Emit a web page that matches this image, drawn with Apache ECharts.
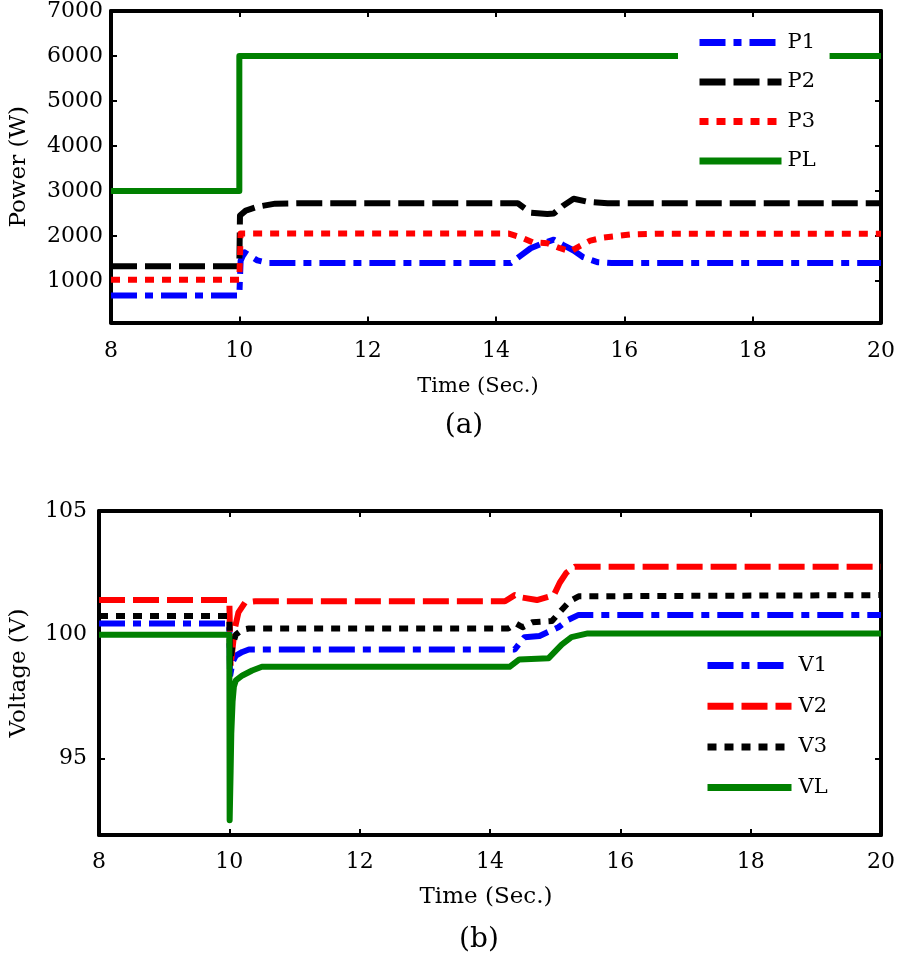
<!DOCTYPE html>
<html><head><meta charset="utf-8">
<script src="https://cdn.jsdelivr.net/npm/echarts@6/dist/echarts.min.js"></script>
<style>html,body{margin:0;padding:0;background:#fff}#c{width:898px;height:960px}</style>
</head><body><div id="c"></div>
<script>
// ---- data ----
const timeTicks = [8, 10, 12, 14, 16, 18, 20];
const powerTicks = [1000, 2000, 3000, 4000, 5000, 6000, 7000];
const voltTicks = [95, 100, 105];

const tP1 = [8, 10, 10.02, 10.08, 10.28, 10.46, 14.23, 14.39, 14.54, 14.73, 14.9, 15.05, 15.21, 15.36, 15.58, 15.8, 20];
const vP1 = [680, 680, 1450, 1640, 1460, 1400, 1400, 1570, 1730, 1840, 1920, 1800, 1680, 1530, 1420, 1400, 1400];

const tP2 = [8, 10, 10.01, 10.1, 10.28, 10.56, 11, 14.34, 14.54, 14.8, 14.9, 15.04, 15.21, 15.42, 15.74, 20];
const vP2 = [1330, 1330, 2455, 2565, 2650, 2720, 2730, 2730, 2520, 2490, 2500, 2670, 2830, 2765, 2730, 2730];

const tP3 = [8, 10, 10.02, 14.2, 14.39, 14.57, 14.8, 15.0, 15.16, 15.27, 15.47, 15.67, 16.09, 16.5, 20];
const vP3 = [1030, 1030, 2055, 2055, 1970, 1860, 1840, 1730, 1660, 1750, 1900, 1965, 2035, 2050, 2050];

const tPL = [8, 10, 10, 20];
const vPL = [3000, 3000, 6000, 6000];

const tV1 = [8, 10, 10.01, 10.05, 10.1, 10.2, 10.3, 14.38, 14.53, 14.76, 15.05, 15.2, 15.36, 20];
const vV1 = [100.45, 100.45, 98.3, 98.9, 99.15, 99.3, 99.4, 99.4, 99.9, 99.95, 100.3, 100.6, 100.8, 100.8];

const tV2 = [8, 10, 10.02, 10.08, 10.14, 10.24, 10.4, 14.23, 14.38, 14.5, 14.72, 14.98, 15.07, 15.17, 15.3, 20];
const vV2 = [101.4, 101.4, 98.7, 100.2, 100.9, 101.3, 101.35, 101.35, 101.6, 101.5, 101.4, 101.6, 102.1, 102.5, 102.75, 102.75];

const tV3 = [8, 10, 10.01, 10.05, 10.1, 10.2, 10.3, 14.28, 14.4, 14.5, 14.65, 14.95, 15.1, 15.22, 15.36, 20];
const vV3 = [100.75, 100.75, 98.8, 99.6, 100.0, 100.2, 100.25, 100.25, 100.45, 100.3, 100.5, 100.55, 101.0, 101.35, 101.55, 101.6];

const tVL = [8, 10, 10.005, 10.02, 10.03, 10.05, 10.07, 10.1, 10.2, 10.35, 10.5, 14.3, 14.45, 14.9, 15.1, 15.25, 15.5, 20];
const vVL = [100, 100, 92.5, 94.5, 96, 97.3, 97.9, 98.15, 98.35, 98.55, 98.7, 98.7, 99.0, 99.05, 99.6, 99.9, 100.05, 100.05];

// ---- chart ----
const FONT = 'DejaVu Serif';
function pts(t, v) { return t.map((x, i) => [x, v[i]]); }

const axisLineS = { show: true, onZero: false, lineStyle: { color: '#000', width: 4 } };
const tickS = { show: true, inside: true, length: 6, lineStyle: { color: '#000', width: 2 } };

function xAx(grid, pos, withLabel, nameGap, nameSize, namePadRight) {
  const a = {
    gridIndex: grid, type: 'value', min: 8, max: 20, interval: 2, position: pos,
    axisLine: axisLineS, axisTick: tickS, splitLine: { show: false },
    axisLabel: { show: withLabel, color: '#000', fontFamily: FONT, fontSize: 22, margin: grid === 0 ? 18 : 16,
      formatter: v => String(v) }
  };
  if (withLabel) {
    a.name = 'Time (Sec.)';
    a.nameLocation = 'middle';
    a.nameGap = nameGap;
    a.nameTextStyle = { color: '#000', fontFamily: FONT, fontSize: nameSize, padding: [0, namePadRight, 0, 0] };
  }
  return a;
}
function yAx(grid, pos, withLabel, min, max, ticks, name, nameGap, margin) {
  const a = {
    gridIndex: grid, type: 'value', min: min, max: max, position: pos,
    axisLine: axisLineS, splitLine: { show: false },
    axisTick: Object.assign({}, tickS, { customValues: ticks }),
    axisLabel: { show: withLabel, customValues: ticks, color: '#000', fontFamily: FONT, fontSize: 22, margin: margin,
      formatter: v => String(v) }
  };
  if (withLabel) {
    a.name = name;
    a.nameLocation = 'middle';
    a.nameGap = nameGap;
    a.nameTextStyle = { color: '#000', fontFamily: FONT, fontSize: 23 };
  }
  return a;
}
function line(name, t, v, color, dash, xi, yi) {
  return {
    name: name, type: 'line', xAxisIndex: xi, yAxisIndex: yi, data: pts(t, v),
    symbol: 'none', animation: false, silent: true,
    lineStyle: { color: color, width: 6, type: dash, cap: 'butt', join: 'round' },
    itemStyle: { color: color }
  };
}
const dashDot = [26, 8, 8, 8], dashed = [26, 8], dotted = [9, 8];

const legendCommon = {
  orient: 'vertical', backgroundColor: '#fff', itemHeight: 20, selectedMode: false,
  itemStyle: { opacity: 0 },
  lineStyle: { width: 7 }
};

const chart = echarts.init(document.getElementById('c'), null, { renderer: 'canvas' });
chart.setOption({
  backgroundColor: '#fff',
  animation: false,
  grid: [
    { left: 108, top: 9.5, width: 774, height: 313 },
    { left: 95, top: 511, width: 788, height: 324 }
  ],
  xAxis: [
    xAx(0, 'bottom', true, 54, 21, 36),
    xAx(0, 'top', false),
    xAx(1, 'bottom', true, 51, 23, 8),
    xAx(1, 'top', false)
  ],
  yAxis: [
    yAx(0, 'left', true, 80, 7000, powerTicks, 'Power (W)', 80, 8),
    yAx(0, 'right', false, 80, 7000, powerTicks),
    yAx(1, 'left', true, 91.9, 105, voltTicks, 'Voltage (V)', 68, 12),
    yAx(1, 'right', false, 91.9, 105, voltTicks)
  ],
  legend: [
    Object.assign({}, legendCommon, {
      data: ['P1', 'P2', 'P3', 'PL'], left: 678, top: 20,
      padding: [12, 14, 12, 18], itemWidth: 82, itemGap: 18.5,
      textStyle: { color: '#000', fontFamily: FONT, fontSize: 21, lineHeight: 20, padding: [0, 0, 0, 1] }
    }),
    Object.assign({}, legendCommon, {
      data: ['V1', 'V2', 'V3', 'VL'], left: 694, top: 645,
      padding: [10, 10, 10, 10], itemWidth: 84, itemGap: 19.7,
      textStyle: { color: '#000', fontFamily: FONT, fontSize: 21, lineHeight: 20, padding: [0, 0, 0, 2] }
    })
  ],
  graphic: [
    { type: 'text', x: 464, y: 426, style: { text: '(a)', font: '28px "DejaVu Serif"', fill: '#000', textAlign: 'center', textVerticalAlign: 'middle' } },
    { type: 'text', x: 479, y: 940, style: { text: '(b)', font: '28px "DejaVu Serif"', fill: '#000', textAlign: 'center', textVerticalAlign: 'middle' } }
  ],
  series: [
    line('P1', tP1, vP1, '#0000ff', dashDot, 0, 0),
    line('P2', tP2, vP2, '#000000', dashed, 0, 0),
    line('P3', tP3, vP3, '#ff0000', dotted, 0, 0),
    line('PL', tPL, vPL, '#008000', 'solid', 0, 0),
    line('V1', tV1, vV1, '#0000ff', dashDot, 2, 2),
    line('V2', tV2, vV2, '#ff0000', dashed, 2, 2),
    line('V3', tV3, vV3, '#000000', dotted, 2, 2),
    line('VL', tVL, vVL, '#008000', 'solid', 2, 2)
  ]
});
</script>
</body></html>
